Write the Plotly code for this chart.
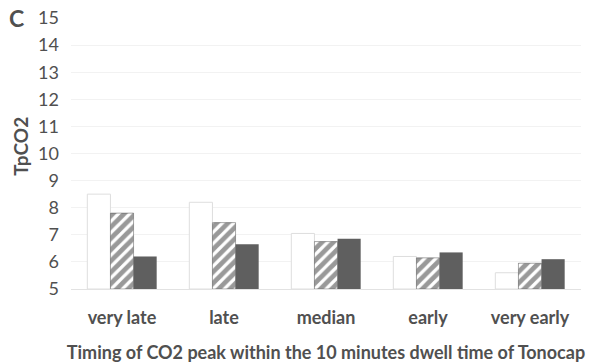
import plotly.graph_objects as go

categories = ["very late", "late", "median", "early", "very early"]
white_vals = [8.5, 8.2, 7.05, 6.2, 5.6]
hatched_vals = [7.8, 7.45, 6.75, 6.15, 5.95]
dark_vals = [6.2, 6.65, 6.85, 6.35, 6.1]
y_ticks = list(range(5, 16))

BASE = 5
TEXT = "#505050"

fig = go.Figure()
fig.add_trace(go.Bar(
    x=categories, y=[v - BASE for v in white_vals], base=BASE,
    marker=dict(color="white", line=dict(color="#dedede", width=1)),
    showlegend=False,
))
fig.add_trace(go.Bar(
    x=categories, y=[v - BASE for v in hatched_vals], base=BASE,
    marker=dict(color="white", line=dict(color="#555555", width=0.5),
                pattern=dict(shape="/", fgcolor="#333333", bgcolor="white",
                             size=8, solidity=0.6)),
    showlegend=False,
))
fig.add_trace(go.Bar(
    x=categories, y=[v - BASE for v in dark_vals], base=BASE,
    marker=dict(color="#5f5f5f", line=dict(width=0)),
    showlegend=False,
))

fig.update_layout(
    width=601, height=363,
    margin=dict(l=71, r=20, t=18, b=74),
    paper_bgcolor="white", plot_bgcolor="white",
    barmode="group", bargap=0.32, bargroupgap=0,
    font=dict(family="Lato", color=TEXT),
    xaxis=dict(
        automargin=False,
        tickfont=dict(size=18, color=TEXT, family="Lato", weight="bold"),
        showgrid=False, showline=True, linecolor="#e2e2e2", linewidth=1,
        ticks="", ticklabelstandoff=12,
        title=dict(text="<b>Timing of CO2 peak within the 10 minutes dwell time of Tonocap</b>",
                   font=dict(size=18, color=TEXT, family="Lato"), standoff=23),
    ),
    yaxis=dict(
        automargin=False,
        range=[5, 15], tickvals=y_ticks,
        tickfont=dict(size=18, color=TEXT, family="Lato"),
        showgrid=True, gridcolor="#f2f2f2", gridwidth=1,
        zeroline=False, showline=False, ticks="", ticklabelstandoff=11,
    ),
    annotations=[
        dict(text="<b>C</b>", xref="paper", yref="paper", x=-0.125, y=1.0,
             xanchor="left", yanchor="middle", showarrow=False,
             font=dict(size=23, color=TEXT, family="Lato")),
        dict(text="<b>TpCO2</b>", xref="paper", yref="paper", x=-0.098, y=0.525,
             xanchor="center", yanchor="middle", textangle=-90, showarrow=False,
             font=dict(size=19, color=TEXT, family="Lato")),
    ],
)

fig.write_html("out.html")
